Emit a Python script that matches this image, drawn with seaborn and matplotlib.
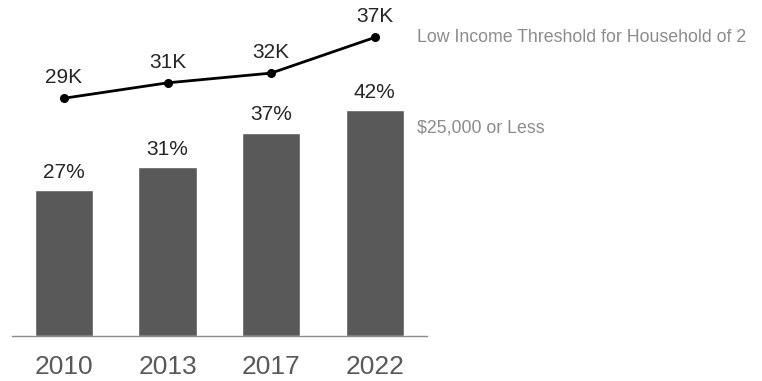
import numpy as np
import pandas as pd
import matplotlib
matplotlib.use("Agg")
import matplotlib.pyplot as plt
import seaborn as sns

# data
years = ["2010", "2013", "2017", "2022"]
share_25k_or_less = [27.0, 31.2, 37.6, 41.7]
share_labels = ["27%", "31%", "37%", "42%"]
threshold_k = [29.3, 31.2, 32.4, 36.8]
threshold_labels = ["29K", "31K", "32K", "37K"]

bar_name = "$25,000 or Less"
line_name = "Low Income Threshold for Household of 2"

df = pd.DataFrame({"year": years, "share": share_25k_or_less, "threshold": threshold_k})

sns.set_style("white")
plt.rcParams["font.family"] = ["Liberation Sans", "DejaVu Sans"]

fig = plt.figure(figsize=(7.62, 3.81), dpi=100)
ax = fig.add_axes([0.01575, 0.118, 0.5442, 0.852])

sns.barplot(data=df, x="year", y="share", color="#595959", saturation=1,
            width=0.56, ax=ax)
ax.bar_label(ax.containers[0], labels=share_labels, padding=6, fontsize=15)
ax.set_ylim(0, 60)

# threshold line on its own scale
ax2 = ax.twinx()
sns.pointplot(data=df, x="year", y="threshold", color="black", ax=ax2,
              markersize=5, linewidth=2)
ax2.set_ylim(0, 40)
for i, (v, lab) in enumerate(zip(threshold_k, threshold_labels)):
    ax2.annotate(lab, (i, v), xytext=(0, 8), textcoords="offset points",
                 ha="center", va="bottom", fontsize=15)

# right-hand series names
ax2.annotate(line_name, (len(years) - 1, threshold_k[-1]), xytext=(30, 0),
             textcoords="offset points", ha="left", va="center",
             fontsize=12.8, color="#8c8c8c", annotation_clip=False)
ax.annotate(bar_name, (len(years) - 1, share_25k_or_less[-1]), xytext=(30, -13),
            textcoords="offset points", ha="left", va="center",
            fontsize=12.8, color="#8c8c8c", annotation_clip=False)

for a in (ax, ax2):
    a.set_xlim(-0.5, len(years) - 0.5)
    a.set_xlabel("")
    a.set_ylabel("")
    a.set_yticks([])
    for s in a.spines.values():
        s.set_visible(False)

ax.spines["bottom"].set_visible(True)
ax.spines["bottom"].set_color("#8c8c8c")
ax.spines["bottom"].set_linewidth(1)
ax.set_xticks(range(len(years)))
ax.set_xticklabels(years)
ax.tick_params(axis="x", length=0, pad=14, labelsize=19, labelcolor="#595959")
ax2.tick_params(axis="x", length=0)

plt.savefig("out.png", dpi=100)
